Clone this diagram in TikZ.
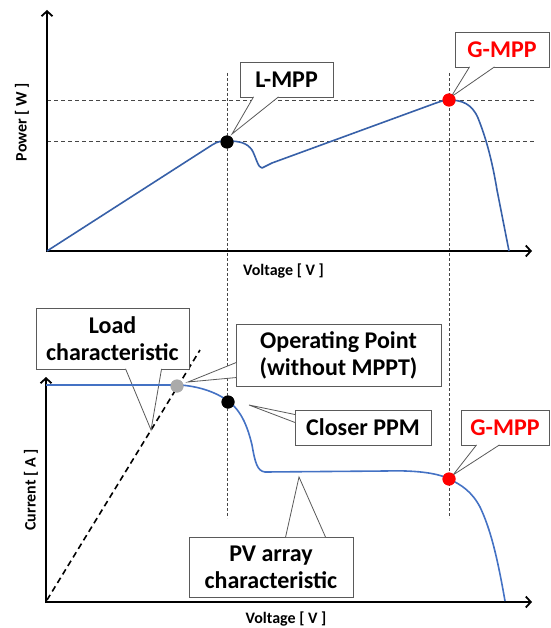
\documentclass[tikz,border=0pt]{standalone}
\usepackage{fontspec}
\setmainfont{Carlito}
\usetikzlibrary{arrows.meta,calc}

\definecolor{pvblue}{RGB}{68,114,196}
\definecolor{pvdark}{RGB}{55,96,168}
\definecolor{guidegray}{RGB}{70,70,70}
\definecolor{boxgray}{RGB}{90,90,90}
\definecolor{mppred}{RGB}{255,0,0}
\definecolor{opgray}{RGB}{170,170,170}

\tikzset{
  axis/.style={line width=1.8pt, -{Straight Barb[length=5pt,width=11pt]}},
  guide/.style={guidegray, line width=0.8pt, dash pattern=on 3pt off 2pt},
  level/.style={guidegray, line width=0.8pt, dash pattern=on 4pt off 3pt},
  loadline/.style={line width=1.6pt, dash pattern=on 6pt off 4pt},
  curve/.style={line width=1.6pt, line join=round},
  dot/.style={circle, fill=#1, inner sep=0pt, minimum size=13pt},
  callbox/.style={draw=boxgray, fill=white, line width=0.9pt, inner sep=0pt,
    font=\fontsize{24}{27}\selectfont\bfseries, align=center},
  pointer/.style={draw=boxgray, fill=white, line width=0.8pt},
  axlabel/.style={font=\fontsize{16}{18}\selectfont\bfseries},
}

\begin{document}
\begin{tikzpicture}[x=1pt, y=-1pt]
  \useasboundingbox (0,0) rectangle (550,628);

  % points on the curves
  \node [dot=black] (ldot) at (227,142) {};
  \node [dot=mppred] (gdot) at (449,100) {};
  \node [dot=opgray] (opdot) at (177,386) {};
  \node [dot=black] (cdot) at (228,402) {};
  \node [dot=mppred] (gbdot) at (449,479) {};

  % guides
  \draw [guide] (ldot |- 0,73) -- (ldot |- 0,518);
  \draw [guide] (gdot |- 0,73) -- (gdot |- 0,518);
  \draw [level] (47,100.5) -- (535,100.5);
  \draw [level] (47,141.5) -- (535,141.5);

  % axes
  \coordinate (o1) at (47,251);
  \coordinate (o2) at (46,602);
  \draw [axis] ($(o1)+(0,1)$) -- (47,10);
  \draw [axis] ($(o1)+(-1,0)$) -- (532,251);
  \draw [axis] ($(o2)+(0,1)$) -- (46,377);
  \draw [axis] ($(o2)+(-1,0)$) -- (532,602);

  \node [axlabel] (vtop) at (283.5,271) {Voltage [ V ]};
  \node [axlabel] (vbot) at (286,619) {Voltage [ V ]};
  \node [axlabel, rotate=90] (pw) at (22,122) {Power [ W ]};
  \node [axlabel, rotate=90] (cur) at (31,490) {Current [ A ]};

  % load characteristic
  \coordinate (loadA) at (47,600);
  \coordinate (loadB) at (200,350);
  \draw [loadline] (loadA) -- (loadB);

  % callouts
  \node [callbox, minimum width=93, minimum height=35] (lbox) at (286.5,79.5) {L-MPP};
  \node [callbox, minimum width=94, minimum height=35, text=mppred] (gbox) at (502,49.5) {G-MPP};
  \node [callbox, minimum width=153, minimum height=61] (loadbox) at (112.5,338.5) {Load\\characteristic};
  \node [callbox, minimum width=205, minimum height=62] (opbox) at (338.5,355) {Operating Point\\(without MPPT)};
  \node [callbox, minimum width=136, minimum height=35] (cbox) at (363,427.5) {Closer PPM};
  \node [callbox, minimum width=88, minimum height=35, text=mppred] (gbbox) at (505,427.5) {G-MPP};
  \node [callbox, minimum width=164, minimum height=60] (pvbox) at (271,567) {PV array\\characteristic};

  \coordinate (ltip) at ($(ldot)+(5,-8)$);
  \coordinate (gtip) at ($(gdot)+(2,-3)$);
  \coordinate (loadtip) at ($(loadA)!0.68!(loadB)$);
  \coordinate (optip) at ($(opdot)+(11,-4)$);
  \coordinate (ctip) at ($(cdot)+(21,3)$);
  \coordinate (gbtip) at ($(gbdot)+(4,-4)$);
  \coordinate (pvtip) at (299,477);

  \filldraw [pointer] ($(lbox.south west)+(14,-0.6)$) -- (ltip) -- ($(lbox.south west)+(39,-0.6)$);
  \filldraw [pointer] ($(gbox.south west)+(15,-0.6)$) -- (gtip) -- ($(gbox.south west)+(40,-0.6)$);
  \filldraw [pointer] ($(loadbox.south west)+(90,-0.6)$) -- (loadtip) -- ($(loadbox.south west)+(126,-0.6)$);
  \filldraw [pointer] ($(opbox.north west)+(0.6,39)$) -- (optip) -- ($(opbox.north west)+(0.6,54)$);
  \filldraw [pointer] ($(cbox.north west)+(0.6,5)$) -- (ctip) -- ($(cbox.north west)+(0.6,13)$);
  \filldraw [pointer] ($(gbbox.south west)+(16,-0.6)$) -- (gbtip) -- ($(gbbox.south west)+(39,-0.6)$);
  \filldraw [pointer] ($(pvbox.north west)+(97,0.6)$) -- (pvtip) -- ($(pvbox.north west)+(137,0.6)$);

  % P-V curve
  \draw [curve, pvdark] (o1) -- (212,145) .. controls (218,141) and (222,141) .. (227,141)
    .. controls (240,141) and (247,143) .. (252,150) .. controls (256,157) and (258,168) .. (262,168)
    -- (272,163) -- (436,103) .. controls (442,101) and (445,100) .. (449,100)
    .. controls (462,100) and (472,104) .. (478,118) .. controls (486,138) and (492,160) .. (497,190)
    -- (509,251);

  % I-V curve
  \draw [curve, pvblue] (46,385) -- (180,385) .. controls (195,386) and (210,390) .. (222,397)
    .. controls (238,406) and (246,420) .. (252,445) .. controls (255,462) and (257,471) .. (265,472)
    -- (386,471) .. controls (420,470) and (440,474) .. (449,479)
    .. controls (462,485) and (472,492) .. (480,507) .. controls (490,528) and (497,555) .. (505,601);

  % dots on top
  \node [dot=black] at (ldot) {};
  \node [dot=mppred] at (gdot) {};
  \node [dot=opgray] at (opdot) {};
  \node [dot=black] at (cdot) {};
  \node [dot=mppred] at (gbdot) {};
\end{tikzpicture}
\end{document}
